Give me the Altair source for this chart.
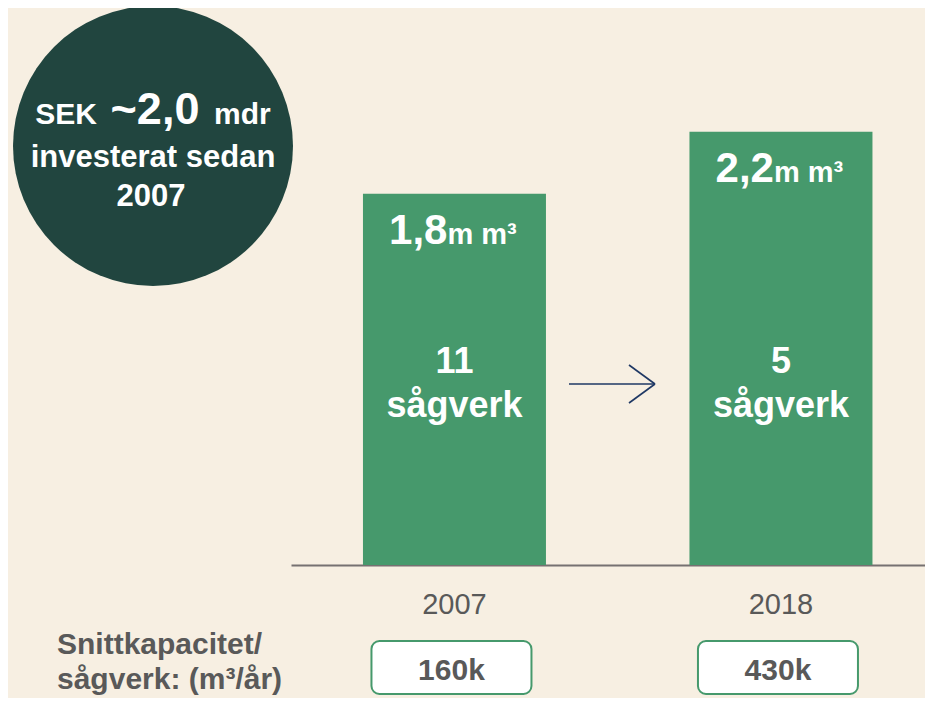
import altair as alt
import pandas as pd

# ---- data ----
years = ["2007", "2018"]
volume = [1.8, 2.2]                 # million m3 sawn capacity
volume_text = ["1,8", "2,2"]
unit_text = ["m m³", "m m³"]
mills = ["11", "5"]
mills_unit = ["sågverk", "sågverk"]
capacity = ["160k", "430k"]         # average capacity per sawmill (m3/yr)

badge_lines = ["SEK", "~2,0", "mdr", "investerat sedan", "2007"]
side_label = ["Snittkapacitet/", "sågverk: (m³/år)"]

BASE = -0.6
TOP = 3.0

FONT = "Liberation Sans"
BG = "#F7EFE2"
GREEN = "#46996C"
DARK = "#21453F"
GREY = "#595959"
NAVY = "#1F3864"

df = pd.DataFrame({
    "year": years,
    "volume": volume,
    "vol_text": volume_text,
    "unit": unit_text,
    "mills": mills,
    "mills_unit": mills_unit,
    "capacity": capacity,
})
one = pd.DataFrame({"k": [0]})

x_enc = alt.X(
    "year:N",
    sort=years,
    scale=alt.Scale(domain=years, range=[283, 917], paddingInner=0.4395,
                    paddingOuter=0.19066, align=0.578),
    axis=alt.Axis(title=None, ticks=False, labelAngle=0, labelFontSize=29,
                  labelColor=GREY, labelFont=FONT, labelPadding=25,
                  domainColor="#767171", domainWidth=2, grid=False),
)
y_scale = alt.Scale(domain=[BASE, TOP], nice=False, zero=False)
y_enc = alt.Y("volume:Q", scale=y_scale, axis=None)

base = alt.Chart(df)

bars = base.mark_bar(color=GREEN).encode(x=x_enc, y=y_enc, y2=alt.datum(BASE))

vol_num = base.mark_text(align="right", baseline="alphabetic", dx=-7, dy=50,
                         fontSize=42, fontWeight="bold", color="white", font=FONT
                         ).encode(x=x_enc, y=y_enc, text="vol_text:N")
vol_unit = base.mark_text(align="left", baseline="alphabetic", dx=-7, dy=50,
                          fontSize=29, fontWeight="bold", color="white", font=FONT
                          ).encode(x=x_enc, y=y_enc, text="unit:N")

mills_num = base.mark_text(align="center", baseline="alphabetic", fontSize=36,
                           fontWeight="bold", color="white", font=FONT
                           ).encode(x=x_enc, y=alt.value(365), text="mills:N")
mills_txt = base.mark_text(align="center", baseline="alphabetic", fontSize=36,
                           fontWeight="bold", color="white", font=FONT
                           ).encode(x=x_enc, y=alt.value(409), text="mills_unit:N")

boxes = base.mark_bar(width=160, cornerRadius=8, fill="white", stroke=GREEN,
                      strokeWidth=2, xOffset=-3
                      ).encode(x=x_enc, y=alt.value(633), y2=alt.value(686))
cap_txt = base.mark_text(align="center", baseline="alphabetic", fontSize=30,
                         fontWeight="bold", color=GREY, font=FONT, dx=-3
                         ).encode(x=x_enc, y=alt.value(672), text="capacity:N")

# badge circle (Vega circle radius = sqrt(size)/2 -> r = 140)
one_c = alt.Chart(one)
circle = one_c.mark_circle(size=78400, color=DARK, opacity=1).encode(
    x=alt.value(145), y=alt.value(138))


def txt(s, x, y, size, align="center", color="white"):
    return one_c.mark_text(text=s, align=align, baseline="alphabetic",
                           fontSize=size, fontWeight="bold", color=color,
                           font=FONT).encode(x=alt.value(x), y=alt.value(y))


b1 = txt(badge_lines[0], 89, 116, 30, "right")
b2 = txt(badge_lines[1], 147, 116, 45, "center")
b3 = txt(badge_lines[2], 206, 116, 30, "left")
b4 = txt(badge_lines[3], 145, 159, 31, "center")
b5 = txt(badge_lines[4], 143, 198, 31, "center")

s1 = txt(side_label[0], 49, 646, 30, "left", GREY)
s2 = txt(side_label[1], 49, 681, 30, "left", GREY)

# arrow
a_shaft = one_c.mark_rule(color=NAVY, strokeWidth=1.6).encode(
    x=alt.value(561), x2=alt.value(647), y=alt.value(376), y2=alt.value(376))
a_up = one_c.mark_rule(color=NAVY, strokeWidth=1.6).encode(
    x=alt.value(621), x2=alt.value(647), y=alt.value(357), y2=alt.value(376))
a_dn = one_c.mark_rule(color=NAVY, strokeWidth=1.6).encode(
    x=alt.value(621), x2=alt.value(647), y=alt.value(395), y2=alt.value(376))

chart = alt.layer(
    bars, boxes, vol_num, vol_unit, mills_num, mills_txt, cap_txt,
    circle, b1, b2, b3, b4, b5, s1, s2, a_shaft, a_up, a_dn,
).properties(
    width=917, height=557,
    autosize=alt.AutoSizeParams(type="none"),
    padding={"left": 0, "top": 0, "right": 0, "bottom": 133},
    background=BG,
).configure_view(stroke=None)

chart.save("out.html", embed_options={"renderer": "svg", "actions": False})
